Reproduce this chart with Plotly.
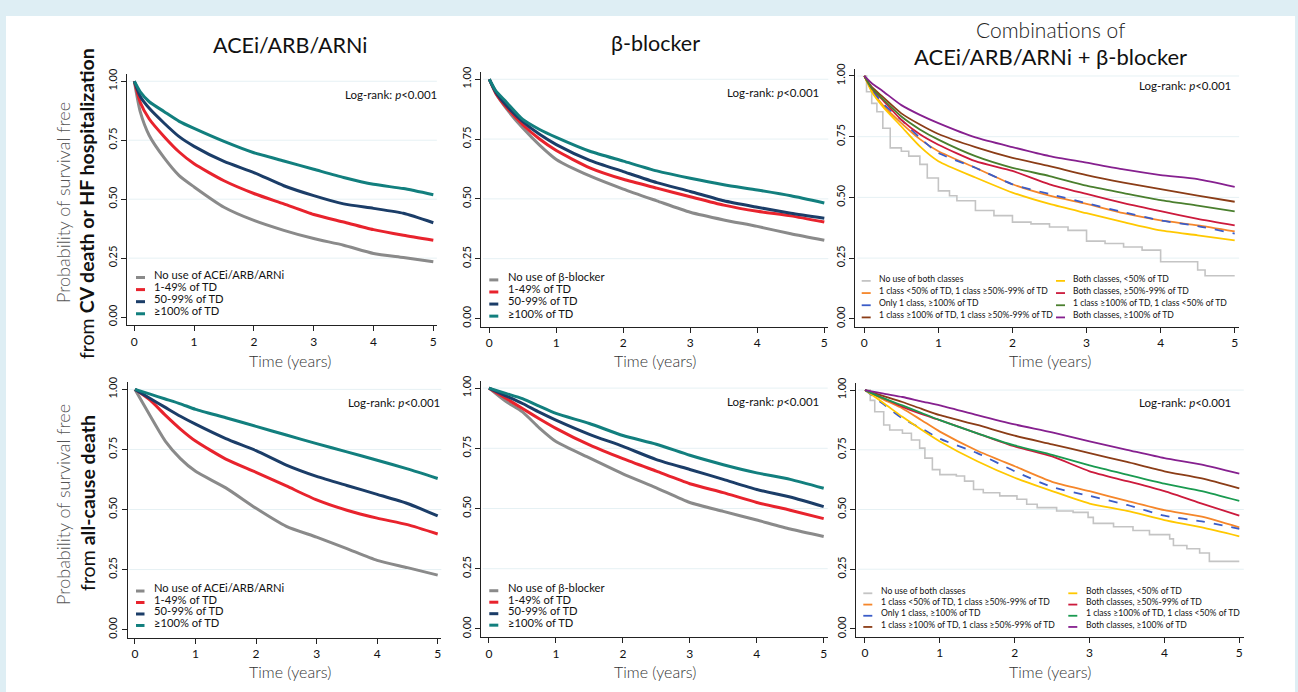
import plotly.graph_objects as go

# ---------------- data ----------------
T_TOP = [0, 0.1, 0.25, 0.5, 0.75, 1, 1.5, 2, 2.5, 3, 3.5, 4, 4.5, 5]
T_BOT = [0, 0.25, 0.5, 0.75, 1, 1.5, 2, 2.5, 3, 3.5, 4, 4.5, 5]
X_TICKS = [0, 1, 2, 3, 4, 5]
Y_TICKS = [0, 0.25, 0.5, 0.75, 1.0]
Y_TICK_LABELS = ["0.00", "0.25", "0.50", "0.75", "1.00"]

SINGLE_NAMES_ACE = ["No use of ACEi/ARB/ARNi", "1-49% of TD", "50-99% of TD", "≥100% of TD"]
SINGLE_NAMES_BB = ["No use of β-blocker", "1-49% of TD", "50-99% of TD", "≥100% of TD"]
SINGLE_COLORS = ["#8a8a8a", "#e8232d", "#1b3d68", "#127f7e"]

# Panel A: ACEi/ARB/ARNi, CV death or HF hospitalization
ACE_CV_NONE = [1, 0.87, 0.77, 0.675, 0.60, 0.552, 0.466, 0.41, 0.368, 0.333, 0.305, 0.27, 0.253, 0.235]
ACE_CV_LOW = [1, 0.91, 0.84, 0.765, 0.70, 0.65, 0.578, 0.524, 0.48, 0.435, 0.403, 0.371, 0.347, 0.326]
ACE_CV_MID = [1, 0.935, 0.885, 0.822, 0.765, 0.724, 0.66, 0.613, 0.557, 0.515, 0.48, 0.461, 0.44, 0.40]
ACE_CV_FULL = [1, 0.955, 0.913, 0.871, 0.83, 0.80, 0.745, 0.697, 0.662, 0.627, 0.592, 0.563, 0.545, 0.519]

# Panel B: beta-blocker, CV death or HF hospitalization
BB_CV_NONE = [1, 0.94, 0.879, 0.796, 0.725, 0.665, 0.596, 0.541, 0.492, 0.444, 0.412, 0.385, 0.354, 0.327]
BB_CV_LOW = [1, 0.94, 0.885, 0.81, 0.75, 0.702, 0.63, 0.582, 0.545, 0.509, 0.474, 0.448, 0.429, 0.403]
BB_CV_MID = [1, 0.945, 0.892, 0.823, 0.77, 0.727, 0.661, 0.614, 0.568, 0.531, 0.492, 0.465, 0.44, 0.419]
BB_CV_FULL = [1, 0.95, 0.906, 0.832, 0.79, 0.757, 0.699, 0.658, 0.617, 0.586, 0.559, 0.537, 0.513, 0.483]

# Panel C: combinations, CV death or HF hospitalization
COMBO_NAMES = ["No use of both classes",
               "1 class <50% of TD, 1 class ≥50%-99% of TD",
               "Only 1 class, ≥100% of TD",
               "1 class ≥100% of TD, 1 class ≥50%-99% of TD",
               "Both classes, <50% of TD",
               "Both classes, ≥50%-99% of TD",
               "1 class ≥100% of TD, 1 class <50% of TD",
               "Both classes, ≥100% of TD"]
COMBO_COLORS_CV = ["#c4c4c4", "#f5862a", "#3a5cc8", "#8b3d17", "#ffc800", "#cc1a3c", "#4a7f2e", "#86208f"]
COMBO_COLORS_AC = ["#c4c4c4", "#f5862a", "#3a5cc8", "#8b3d17", "#ffc800", "#cc1a3c", "#1a9a50", "#86208f"]
COMBO_DASH = ["solid", "solid", "dash", "solid", "solid", "solid", "solid", "solid"]

CMB_CV_NONE_T = [0, 0.03, 0.1, 0.17, 0.25, 0.35, 0.5, 0.6, 0.75, 0.85, 1, 1.15, 1.25, 1.5, 1.75,
                 2, 2.25, 2.5, 2.75, 3, 3.25, 3.5, 3.75, 4, 4.25, 4.5, 4.6, 5]
CMB_CV_NONE = [1, 0.935, 0.887, 0.853, 0.785, 0.704, 0.69, 0.67, 0.636, 0.58, 0.527, 0.507, 0.486, 0.446, 0.425,
               0.398, 0.391, 0.378, 0.364, 0.32, 0.31, 0.296, 0.283, 0.235, 0.235, 0.201, 0.177, 0.177]
CMB_CV_LOWMID = [1, 0.94, 0.88, 0.806, 0.74, 0.69, 0.622, 0.554, 0.507, 0.473, 0.435, 0.405, 0.385, 0.36]
CMB_CV_ONE100 = [1, 0.945, 0.887, 0.819, 0.745, 0.683, 0.622, 0.554, 0.514, 0.476, 0.439, 0.405, 0.382, 0.351]
CMB_CV_100MID = [1, 0.955, 0.914, 0.846, 0.80, 0.761, 0.707, 0.663, 0.629, 0.592, 0.561, 0.534, 0.507, 0.482]
CMB_CV_BOTHLOW = [1, 0.935, 0.874, 0.792, 0.71, 0.649, 0.582, 0.52, 0.473, 0.435, 0.398, 0.364, 0.344, 0.323]
CMB_CV_BOTHMID = [1, 0.95, 0.901, 0.819, 0.76, 0.717, 0.649, 0.609, 0.554, 0.514, 0.476, 0.443, 0.412, 0.385]
CMB_CV_100LOW = [1, 0.95, 0.905, 0.833, 0.78, 0.738, 0.67, 0.622, 0.588, 0.548, 0.518, 0.489, 0.466, 0.442]
CMB_CV_BOTH100 = [1, 0.97, 0.9375, 0.88, 0.84, 0.806, 0.747, 0.707, 0.67, 0.643, 0.615, 0.592, 0.575, 0.543]

# Panel D: ACEi/ARB/ARNi, all-cause death
ACE_AC_NONE = [1, 0.89, 0.785, 0.712, 0.659, 0.59, 0.505, 0.43, 0.385, 0.337, 0.288, 0.258, 0.227]
ACE_AC_LOW = [1, 0.955, 0.893, 0.835, 0.785, 0.71, 0.655, 0.598, 0.54, 0.497, 0.464, 0.437, 0.398]
ACE_AC_MID = [1, 0.962, 0.925, 0.888, 0.855, 0.795, 0.745, 0.685, 0.638, 0.6, 0.563, 0.525, 0.473]
ACE_AC_FULL = [1, 0.98, 0.96, 0.94, 0.917, 0.882, 0.846, 0.81, 0.774, 0.74, 0.705, 0.669, 0.629]

# Panel E: beta-blocker, all-cause death
BB_AC_NONE = [1, 0.945, 0.901, 0.835, 0.778, 0.71, 0.644, 0.586, 0.525, 0.488, 0.452, 0.415, 0.384]
BB_AC_LOW = [1, 0.958, 0.915, 0.873, 0.833, 0.764, 0.707, 0.655, 0.603, 0.566, 0.525, 0.493, 0.458]
BB_AC_MID = [1, 0.968, 0.936, 0.90, 0.867, 0.808, 0.758, 0.703, 0.662, 0.621, 0.579, 0.548, 0.508]
BB_AC_FULL = [1, 0.978, 0.956, 0.925, 0.895, 0.853, 0.803, 0.767, 0.721, 0.682, 0.648, 0.621, 0.584]

# Panel F: combinations, all-cause death
CMB_AC_NONE_T = [0, 0.07, 0.13, 0.25, 0.33, 0.5, 0.62, 0.73, 0.8, 0.9, 1.0, 1.22, 1.33, 1.45, 1.58, 1.8,
                 2.03, 2.16, 2.3, 2.56, 2.78, 2.98, 3.05, 3.32, 3.58, 3.8, 4.07, 4.12, 4.3, 4.47, 4.6, 5]
CMB_AC_NONE = [1, 0.957, 0.909, 0.854, 0.833, 0.819, 0.791, 0.757, 0.715, 0.667, 0.646, 0.64, 0.619, 0.584,
               0.57, 0.557, 0.543, 0.522, 0.508, 0.494, 0.488, 0.467, 0.442, 0.428, 0.412, 0.395, 0.377,
               0.349, 0.336, 0.318, 0.283, 0.283]
CMB_AC_LOWMID = [1, 0.96, 0.923, 0.875, 0.826, 0.746, 0.681, 0.616, 0.577, 0.536, 0.497, 0.47, 0.425]
CMB_AC_ONE100 = [1, 0.94, 0.881, 0.84, 0.796, 0.736, 0.66, 0.594, 0.557, 0.519, 0.474, 0.45, 0.419]
CMB_AC_100MID = [1, 0.975, 0.95, 0.922, 0.895, 0.854, 0.809, 0.773, 0.736, 0.699, 0.66, 0.63, 0.588]
CMB_AC_BOTHLOW = [1, 0.945, 0.888, 0.835, 0.785, 0.702, 0.633, 0.577, 0.525, 0.494, 0.456, 0.425, 0.388]
CMB_AC_BOTHMID = [1, 0.965, 0.93, 0.90, 0.874, 0.819, 0.764, 0.722, 0.66, 0.619, 0.577, 0.525, 0.474]
CMB_AC_100LOW = [1, 0.965, 0.936, 0.905, 0.874, 0.819, 0.768, 0.729, 0.685, 0.646, 0.608, 0.577, 0.536]
CMB_AC_BOTH100 = [1, 0.985, 0.971, 0.953, 0.936, 0.895, 0.856, 0.823, 0.785, 0.75, 0.715, 0.688, 0.65]

# ---------------- layout helpers ----------------
W, H = 1298, 692
FONT = "Lato"
X_RANGE = [-0.12, 5.06]
Y_RANGE = [-0.034, 1.03]
TEXT_SHIFT = 0.28  # em fraction: annotation box middle vs. visual text centre


def pxx(x):
    return x / W


def pxy(y):
    return 1 - y / H


# pixel positions of x=0, x=5, y=1, y=0 for each panel
GEOM = [
    dict(x0=134.3, x5=433.3, y1=76.0, y0=314.3),
    dict(x0=489.3, x5=824.3, y1=74.0, y0=315.7),
    dict(x0=864.3, x5=1234.7, y1=70.7, y0=316.0),
    dict(x0=135.0, x5=437.7, y1=387.3, y0=630.0),
    dict(x0=489.0, x5=823.7, y1=386.0, y0=629.3),
    dict(x0=865.0, x5=1239.3, y1=388.0, y0=629.3),
]

fig = go.Figure()
layout = dict(
    width=W, height=H, margin=dict(l=0, r=0, t=0, b=0),
    paper_bgcolor="#deeef4", plot_bgcolor="rgba(0,0,0,0)",
    showlegend=False, font=dict(family=FONT, color="#000"),
)
shapes = [dict(type="rect", xref="paper", yref="paper", x0=pxx(6), x1=pxx(1295), y0=-0.05, y1=pxy(10),
               fillcolor="white", line=dict(width=0), layer="below")]
annotations = []

for i, g in enumerate(GEOM):
    n = "" if i == 0 else str(i + 1)
    sx = (g["x5"] - g["x0"]) / 5
    sy = g["y0"] - g["y1"]
    left = g["x0"] + X_RANGE[0] * sx
    right = g["x0"] + X_RANGE[1] * sx
    top = g["y0"] - Y_RANGE[1] * sy
    bottom = g["y0"] - Y_RANGE[0] * sy
    layout["xaxis" + n] = dict(
        domain=[pxx(left), pxx(right)], range=X_RANGE, anchor="y" + n,
        showline=True, linecolor="#222", linewidth=1, ticks="outside", ticklen=5, tickcolor="#222",
        tickvals=X_TICKS, ticktext=[str(v) for v in X_TICKS], tickfont=dict(size=12, color="#111"),
        showgrid=False, zeroline=False, fixedrange=True,
    )
    layout["yaxis" + n] = dict(
        domain=[pxy(bottom), pxy(top)], range=Y_RANGE, anchor="x" + n,
        showline=True, linecolor="#222", linewidth=1, ticks="outside", ticklen=5, tickcolor="#222",
        tickvals=Y_TICKS, ticktext=Y_TICK_LABELS, tickangle=-90, tickfont=dict(size=11, color="#111"),
        showgrid=False, zeroline=False, fixedrange=True,
    )
    for yv in Y_TICKS[1:]:
        shapes.append(dict(type="line", xref="x" + n + " domain", yref="y" + n, x0=0.005, x1=1,
                           y0=yv, y1=yv, line=dict(color="#e6f1f4", width=1), layer="below"))

# ---- traces ----
single_panels = [
    (0, T_TOP, [ACE_CV_NONE, ACE_CV_LOW, ACE_CV_MID, ACE_CV_FULL], SINGLE_NAMES_ACE),
    (1, T_TOP, [BB_CV_NONE, BB_CV_LOW, BB_CV_MID, BB_CV_FULL], SINGLE_NAMES_BB),
    (3, T_BOT, [ACE_AC_NONE, ACE_AC_LOW, ACE_AC_MID, ACE_AC_FULL], SINGLE_NAMES_ACE),
    (4, T_BOT, [BB_AC_NONE, BB_AC_LOW, BB_AC_MID, BB_AC_FULL], SINGLE_NAMES_BB),
]
for idx, t, series, names in single_panels:
    n = "" if idx == 0 else str(idx + 1)
    for s, name, col in zip(series, names, SINGLE_COLORS):
        fig.add_trace(go.Scatter(x=t, y=s, mode="lines", name=name, xaxis="x" + n, yaxis="y" + n,
                                 line=dict(color=col, width=3, shape="spline", smoothing=0.6)))

combo_panels = [
    (2, T_TOP, CMB_CV_NONE_T, CMB_CV_NONE,
     [CMB_CV_LOWMID, CMB_CV_ONE100, CMB_CV_100MID, CMB_CV_BOTHLOW, CMB_CV_BOTHMID, CMB_CV_100LOW, CMB_CV_BOTH100],
     COMBO_COLORS_CV),
    (5, T_BOT, CMB_AC_NONE_T, CMB_AC_NONE,
     [CMB_AC_LOWMID, CMB_AC_ONE100, CMB_AC_100MID, CMB_AC_BOTHLOW, CMB_AC_BOTHMID, CMB_AC_100LOW, CMB_AC_BOTH100],
     COMBO_COLORS_AC),
]
for idx, t, tn, none, series, cols in combo_panels:
    n = str(idx + 1)
    fig.add_trace(go.Scatter(x=tn, y=none, mode="lines", name=COMBO_NAMES[0], xaxis="x" + n, yaxis="y" + n,
                             line=dict(color=cols[0], width=1.6, shape="hv")))
    for k in range(1, 8):
        s = series[k - 1]
        fig.add_trace(go.Scatter(x=t, y=s, mode="lines", name=COMBO_NAMES[k], xaxis="x" + n, yaxis="y" + n,
                                 line=dict(color=cols[k], width=1.8, dash=COMBO_DASH[k],
                                           shape="spline", smoothing=0.6)))


# ---- manual legends ----
def legend(rows_y, line_x0, line_x1, text_x, names, colors, dashes, size, width):
    for y, nm, c, d in zip(rows_y, names, colors, dashes):
        shapes.append(dict(type="line", xref="paper", yref="paper", x0=pxx(line_x0), x1=pxx(line_x1),
                           y0=pxy(y), y1=pxy(y), line=dict(color=c, width=width, dash=d)))
        annotations.append(dict(xref="paper", yref="paper", x=pxx(text_x), y=pxy(y - TEXT_SHIFT * size),
                                text=nm, showarrow=False, xanchor="left", yanchor="middle",
                                font=dict(size=size, color="#111", family=FONT)))


SOLID4 = ["solid"] * 4
legend([274.3, 286.5, 298.7, 310.9], 136, 145, 151.5, SINGLE_NAMES_ACE, SINGLE_COLORS, SOLID4, 11.2, 3)
legend([276.7, 288.9, 301.1, 313.3], 489.3, 498.3, 505.5, SINGLE_NAMES_BB, SINGLE_COLORS, SOLID4, 11.2, 3)
legend([591.0, 602.6, 614.2, 625.8], 136, 144.5, 151.5, SINGLE_NAMES_ACE, SINGLE_COLORS, SOLID4, 11.2, 3)
legend([590.7, 602.3, 613.9, 625.5], 489.3, 498.3, 505.5, SINGLE_NAMES_BB, SINGLE_COLORS, SOLID4, 11.2, 3)

legend([277.7, 290.0, 302.3, 314.6], 861.7, 870.7, 877.3, COMBO_NAMES[:4], COMBO_COLORS_CV[:4],
       ["solid", "solid", "dash", "solid"], 8.6, 1.8)
legend([277.7, 290.0, 302.3, 314.6], 1056, 1065, 1071.3, COMBO_NAMES[4:], COMBO_COLORS_CV[4:],
       SOLID4, 8.6, 1.8)
legend([593.3, 604.7, 616.0, 627.3], 863.3, 872.3, 879.3, COMBO_NAMES[:4], COMBO_COLORS_AC[:4],
       ["solid", "solid", "dash", "solid"], 8.6, 1.8)
legend([593.3, 604.7, 616.0, 627.3], 1068.3, 1077.3, 1083.7, COMBO_NAMES[4:], COMBO_COLORS_AC[4:],
       SOLID4, 8.6, 1.8)


# ---- texts ----
def text(x, y, s, size, color="#111", anchor="center", angle=0, weight="normal", shift=True):
    if angle == 0 and shift:
        y = y - TEXT_SHIFT * size
    annotations.append(dict(xref="paper", yref="paper", x=pxx(x), y=pxy(y), text=s, showarrow=False,
                            xanchor=anchor, yanchor="middle", textangle=angle,
                            font=dict(size=size, color=color, family=FONT, weight=weight)))


text(290, 45, "ACEi/ARB/ARNi", 21.5)
text(655, 43, "β-blocker", 21.5)
text(1050, 30, "Combinations of", 21, color="#222", weight=300)
text(1050, 57, "ACEi/ARB/ARNi + β-blocker", 22)

for (xr, yr) in [(439, 93), (821, 91), (1233, 83.3), (442, 404), (821, 402.3), (1233, 404)]:
    text(xr, yr, "Log-rank: <i>p</i><0.001", 11.5, anchor="right")

for (xc, yc) in [(290, 358.5), (655, 358.5), (1050, 358.5), (290, 672.5), (655, 672.5), (1050, 672.5)]:
    text(xc, yc, "Time (years)", 16, color="#333", weight=300, shift=False)

text(63, 199, "Probability of survival free", 18, color="#555", angle=-90, weight=300)
text(87, 200, "from <b>CV death or HF hospitalization</b>", 19.5, color="#111", angle=-90)
text(63, 504, "Probability of survival free", 18, color="#555", angle=-90, weight=300)
text(88, 502, "from <b>all-cause death</b>", 19.5, color="#111", angle=-90)

layout["shapes"] = shapes
layout["annotations"] = annotations
fig.update_layout(**layout)

fig.write_html("out.html", include_plotlyjs=True, config={"displayModeBar": False},
               post_script="document.body.style.margin='0';document.body.style.overflow='hidden';")
